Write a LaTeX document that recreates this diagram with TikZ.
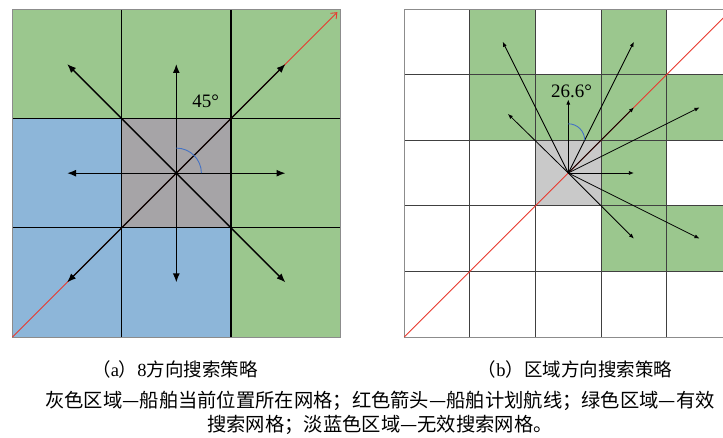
\documentclass[tikz,border=0pt]{standalone}
\usepackage{fontspec}
\setmainfont{Liberation Serif}
\newfontfamily\cjk{Noto Sans CJK SC}
\usetikzlibrary{positioning,arrows.meta,calc}
\definecolor{validgrn}{HTML}{9BC78E}
\definecolor{invblue}{HTML}{8DB6D9}
\definecolor{shipgrayA}{HTML}{A6A4A7}
\definecolor{shipgrayB}{HTML}{C9C9C9}
\definecolor{route}{HTML}{E8392E}
\definecolor{arcblue}{HTML}{4472C4}
\definecolor{frameclr}{HTML}{8C8C8C}

\begin{document}
\begin{tikzpicture}[x=1pt,y=1pt,
    gridA/.style={black,line width=1.2pt},
    gridB/.style={black!75,line width=0.9pt},
    frame/.style={frameclr,line width=0.8pt},
    plan/.style={route,line width=0.9pt},
    dirA/.style={black,line width=1.3pt,-{Latex[length=9pt,width=7pt]}},
    dirB/.style={black,line width=0.8pt,-{Latex[length=5pt,width=4pt]}},
    angarc/.style={arcblue,line width=0.9pt},
    anglbl/.style={font=\fontsize{19}{21}\selectfont},
    capfont/.style={font=\fontsize{18.5}{22}\selectfont},
    notefont/.style={font=\cjk\fontsize{19.3}{24}\selectfont}]
  \useasboundingbox (0,0) rectangle (723,437);
  \fill[white] (0,0) rectangle (723,437);

  % (a) 8 directions, 3x3 cells
  \begin{scope}[shift={(12.5,100)},x=109.2pt,y=109.2pt]
    \fill[validgrn] (0,0) rectangle (3,3);
    \foreach \cx/\cy in {0/0,1/0,0/1}
      \fill[invblue] (\cx,\cy) rectangle ++(1,1);
    \fill[shipgrayA] (1,1) rectangle (2,2);
    \foreach \k in {1,2} {
      \draw[gridA] (\k,0) -- (\k,3);
      \draw[gridA] (0,\k) -- (3,\k);
    }
    \draw[frame] (0,0) rectangle (3,3);
    \coordinate (ca) at (1.5,1.5);
    \coordinate (sa) at (0,0);
    \coordinate (ea) at (2.975,2.975);
    \draw[plan,-{Straight Barb[length=5pt,width=8pt]}] (sa) -- (ea);
    \foreach \dx/\dy [count=\i] in {0/1,1/1,1/0,1/-1,0/-1,-1/-1,-1/0,-1/1} {
      \coordinate (ta\i) at ($(ca)+(\dx,\dy)$);
      \draw[dirA] (ca) -- (ta\i);
    }
    \draw[angarc] (1.5,1.73) arc[start angle=90,end angle=0,radius=0.23];
    \node[anglbl] (anga) at (1.77,2.16) {45°};
  \end{scope}

  % (b) region directions, 5x5 cells (cut at the right)
  \begin{scope}[shift={(404.3,100)},x=65.6pt,y=65.6pt]
    \clip (-0.1,-0.1) rectangle (4.858,5.1);
    \foreach \cx/\cy in {1/4,3/4,1/3,2/3,3/3,4/3,3/2,3/1,4/1}
      \fill[validgrn] (\cx,\cy) rectangle ++(1,1);
    \fill[shipgrayB] (2,2) rectangle (3,3);
    \foreach \k in {1,...,5}
      \draw[gridB] (\k,0) -- (\k,5);
    \foreach \k in {1,...,4}
      \draw[gridB] (0,\k) -- (6,\k);
    \draw[frame] (6,0) -- (0,0) -- (0,5) -- (6,5);
    \coordinate (cb) at (2.5,2.5);
    \coordinate (sb) at (0,0);
    \coordinate (eb) at (5,5);
    \draw[plan] (sb) -- (eb);
    \foreach \dx/\dy [count=\i] in {-1/2,-0.92/0.9,0/1.12,1/2,1/1,2/1,1/0,1/-1,2/-1} {
      \coordinate (tb\i) at ($(cb)+(\dx,\dy)$);
      \draw[dirB] (cb) -- (tb\i);
    }
    \draw[angarc] (2.5,3.25) arc[start angle=90,end angle=0,radius=0.25];
    \node[anglbl] (angb) at (2.55,3.75) {26.6°};
  \end{scope}

  \node[capfont] (capa) at (175,68) {{\cjk （}a{\cjk ）}8{\cjk 方向搜索策略}};
  \node[capfont] (capb) at (575,68) {{\cjk （}b{\cjk ）区域方向搜索策略}};
  \node[notefont,align=center] (note) at (380,24)
    {灰色区域—船舶当前位置所在网格；红色箭头—船舶计划航线；绿色区域—有效\\
     搜索网格；淡蓝色区域—无效搜索网格。};
\end{tikzpicture}
\end{document}
